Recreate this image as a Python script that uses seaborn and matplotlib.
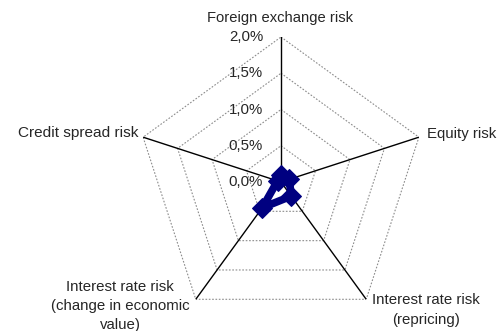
import numpy as np
import pandas as pd
import matplotlib
matplotlib.use("Agg")
import matplotlib.pyplot as plt
import seaborn as sns

categories = [
    "Foreign exchange risk",
    "Equity risk",
    "Interest rate risk\n(repricing)",
    "Interest rate risk\n(change in economic\nvalue)",
    "Credit spread risk",
]
values = [0.10, 0.12, 0.24, 0.44, 0.05]  # percent
tick_values = [0.0, 0.5, 1.0, 1.5, 2.0]
tick_labels = ["0,0%", "0,5%", "1,0%", "1,5%", "2,0%"]

sns.set_style("white")
plt.rcParams["font.family"] = ["Liberation Sans", "DejaVu Sans"]

W, H = 504, 331
fig = plt.figure(figsize=(W / 100, H / 100), dpi=100)
cx, cy, R = 281, 182, 145
ax = fig.add_axes([(cx - R) / W, (H - cy - R) / H, 2 * R / W, 2 * R / H], projection="polar")
ax.set_theta_offset(np.pi / 2)
ax.set_theta_direction(-1)
ax.set_ylim(0, 2.0)
ax.grid(False)
ax.spines["polar"].set_visible(False)
ax.set_xticks([])
ax.set_yticks([])
ax.patch.set_alpha(0)

n = len(categories)
theta = np.arange(n) * 2 * np.pi / n
theta_closed = np.append(theta, theta[0])

# pentagonal gridlines
for t in tick_values[1:]:
    ax.plot(theta_closed, [t] * (n + 1), color="#8c8c8c", lw=0.8,
            linestyle=(0, (1.5, 1.5)), zorder=1)
# radial axis lines
for th in theta:
    ax.plot([th, th], [0, 2.0], color="black", lw=1.0, zorder=2)

df = pd.DataFrame({"theta": theta_closed, "value": values + [values[0]]})
sns.lineplot(data=df, x="theta", y="value", sort=False, ax=ax, color="#000080",
             lw=5.5, marker="D", markersize=10, markeredgecolor="#000080",
             zorder=5, legend=False)
ax.set_xlabel("")
ax.set_ylabel("")


def put(x, y, s, ha="center", va="center", fs=10.8, ls=1.2):
    fig.text(x / W, 1 - y / H, s, ha=ha, va=va, fontsize=fs, linespacing=ls)


for v, lab in zip(tick_values, tick_labels):
    put(263, cy - v / 2.0 * R, lab, ha="right")

put(280, 18, categories[0], fs=10.6)
put(427, 134, categories[1], ha="left")
put(426, 310, categories[2], ls=1.6)
put(120, 306, categories[3], ls=1.42)
put(139, 133, categories[4], ha="right", fs=11.1)

fig.savefig("out.png", dpi=100)
